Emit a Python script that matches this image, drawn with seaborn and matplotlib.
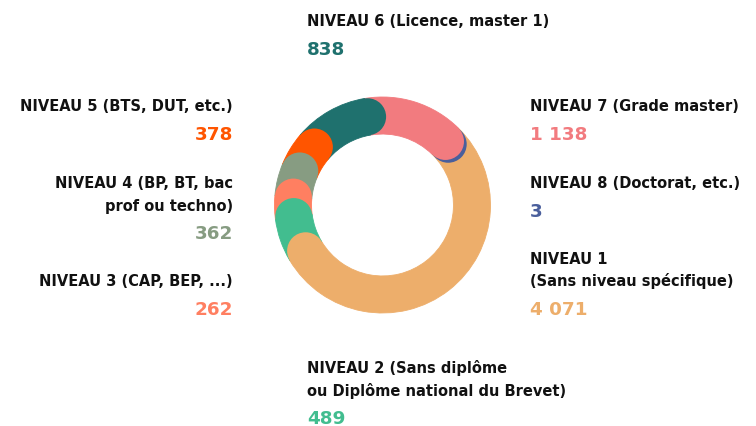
import numpy as np
import seaborn as sns
import matplotlib.pyplot as plt
from matplotlib.patches import Circle

# ------------------------------------------------------------------
# Data (clockwise order, starting near 12 o'clock)
# ------------------------------------------------------------------
levels = ["NIVEAU 7", "NIVEAU 8", "NIVEAU 1", "NIVEAU 2",
          "NIVEAU 3", "NIVEAU 4", "NIVEAU 5", "NIVEAU 6"]
labels = [
    "NIVEAU 7 (Grade master)",
    "NIVEAU 8 (Doctorat, etc.)",
    "NIVEAU 1\n(Sans niveau spécifique)",
    "NIVEAU 2 (Sans diplôme\nou Diplôme national du Brevet)",
    "NIVEAU 3 (CAP, BEP, ...)",
    "NIVEAU 4 (BP, BT, bac\nprof ou techno)",
    "NIVEAU 5 (BTS, DUT, etc.)",
    "NIVEAU 6 (Licence, master 1)",
]
values = [1138, 3, 4071, 489, 262, 362, 378, 838]
colors = ["#F27B7F", "#4A5F9C", "#EDAE6B", "#42BD8F",
          "#FF7F61", "#879C82", "#FF5500", "#1F716E"]

# ------------------------------------------------------------------
# Layout (pixels, figure is 756x427)
# ------------------------------------------------------------------
W, H = 756, 427
CX, CY, R = 382.5, 206, 108
RING = 0.343
MIN_CAP_GAP = 2.5

# label anchor: (x, baseline of first line, alignment)
label_pos = {
    "NIVEAU 7": (530, 111.5, "left"),
    "NIVEAU 8": (530, 188.5, "left"),
    "NIVEAU 1": (530, 264, "left"),
    "NIVEAU 2": (307, 373.5, "left"),
    "NIVEAU 3": (233, 286.5, "right"),
    "NIVEAU 4": (233, 188.5, "right"),
    "NIVEAU 5": (233, 111.5, "right"),
    "NIVEAU 6": (307, 26.5, "left"),
}
LINE_H = 22.5
NUM_GAP = 28.5

sns.set_theme(style="white")
plt.rcParams["font.family"] = ["DejaVu Sans"]

fig = plt.figure(figsize=(W / 100, H / 100), dpi=100)
ax = fig.add_axes([(CX - R) / W, (H - CY - R) / H, 2 * R / W, 2 * R / H])

wedges, _ = ax.pie(
    values,
    colors=colors,
    startangle=99.6,
    counterclock=False,
    wedgeprops=dict(width=RING, linewidth=0.6),
)
for w, c in zip(wedges, colors):
    w.set_edgecolor(c)
    w.set_zorder(1)

# round end caps: each slice overlaps the next one (clockwise)
r_mid = 1 - RING / 2
prev = None
for i, (w, c) in enumerate(zip(wedges, colors)):
    ang = w.theta1
    if prev is not None and prev - ang < MIN_CAP_GAP:
        ang = prev - MIN_CAP_GAP
    prev = ang
    t = np.deg2rad(ang)
    ax.add_patch(Circle((r_mid * np.cos(t), r_mid * np.sin(t)), RING / 2,
                        color=c, zorder=20 - i, linewidth=0))

ax.set_xlim(-1, 1)
ax.set_ylim(-1, 1)
ax.set_aspect("equal")
ax.axis("off")


def fmt(v):
    return f"{v:,}".replace(",", " ")


for lvl, lab, val, col in zip(levels, labels, values, colors):
    x, y, ha = label_pos[lvl]
    lines = lab.split("\n")
    for k, line in enumerate(lines):
        fig.text(x / W, 1 - (y + k * LINE_H) / H, line, ha=ha, va="baseline",
                 fontsize=10.5, fontweight="bold", color="#111111")
    yn = y + (len(lines) - 1) * LINE_H + NUM_GAP
    fig.text(x / W, 1 - yn / H, fmt(val), ha=ha, va="baseline",
             fontsize=13.2, fontweight="bold", color=col)

fig.savefig("out.png", dpi=100, facecolor="white")
